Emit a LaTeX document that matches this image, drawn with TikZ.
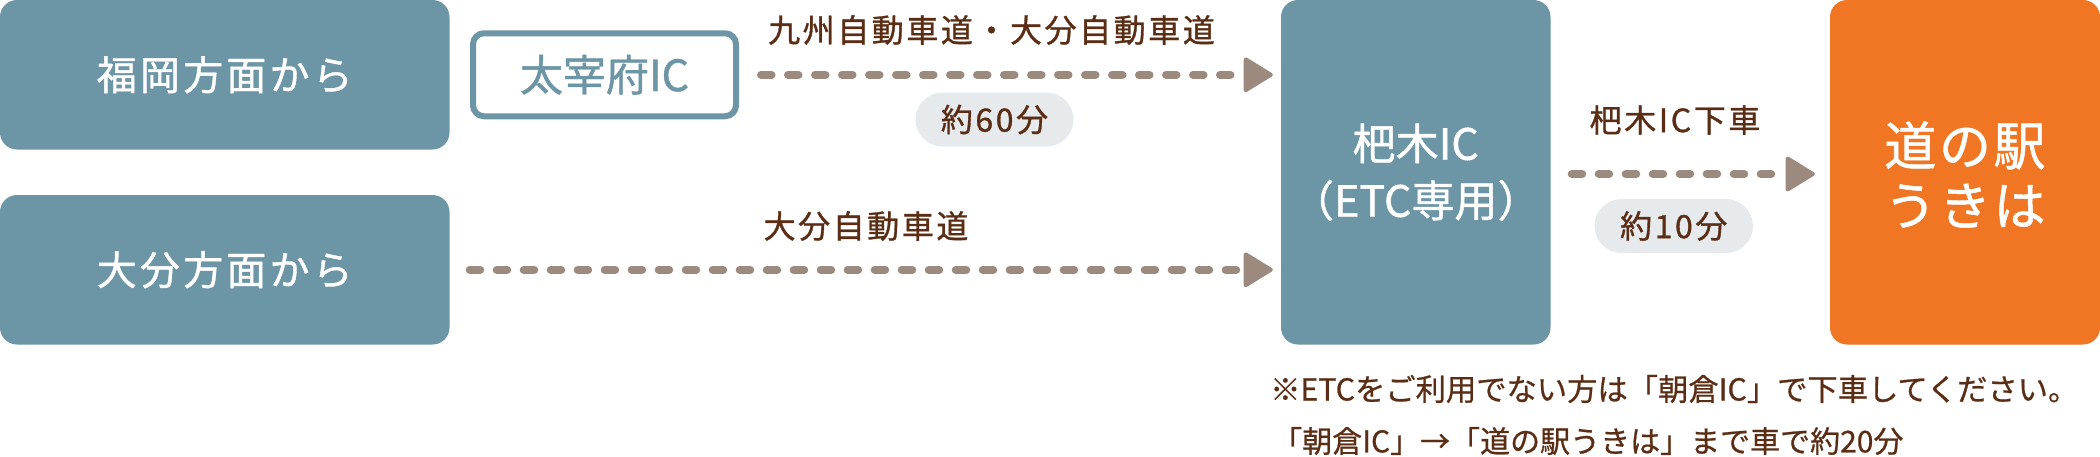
\documentclass[tikz,border=0pt]{standalone}
\usepackage{fontspec}
\usetikzlibrary{arrows.meta}
\setmainfont{Noto Sans CJK JP}[FakeBold=1]
\newfontfamily\jpwide{Noto Sans CJK JP}[LetterSpace=8,FakeBold=1]
\newfontfamily\jpbig{Noto Sans CJK JP}[LetterSpace=5,FakeBold=1]
\newfontfamily\jpnote{Noto Sans CJK JP}[FakeBold=0.7]
\definecolor{tealbox}{HTML}{6C95A6}
\definecolor{orangebox}{HTML}{F07623}
\definecolor{brownline}{HTML}{9C8A7E}
\definecolor{browntext}{HTML}{5A2D14}
\definecolor{pillgrey}{HTML}{E6EAEC}
\tikzset{
  x=1pt,y=-1pt,
  box/.style={fill=tealbox,rounded corners=17pt,inner sep=0pt,text=white,align=center,draw=none},
  startbox/.style={box,minimum width=449.5pt,minimum height=149.5pt,font=\fontsize{40}{48}\selectfont\jpwide},
  tallbox/.style={box,minimum height=344.5pt},
  icbox/.style={draw=tealbox,line width=6pt,fill=white,rounded corners=11pt,inner sep=0pt,minimum width=263pt,minimum height=83pt,text=tealbox,font=\fontsize{43}{48}\selectfont},
  lab/.style={inner sep=0pt,text=browntext,font=\fontsize{32}{36}\selectfont\jpwide},
  pill/.style={fill=pillgrey,rounded corners=27pt,inner sep=0pt,minimum height=54pt,text=browntext,font=\fontsize{32}{36}\selectfont\jpwide},
  note/.style={inner sep=0pt,anchor=west,text=browntext,font=\fontsize{30}{34}\selectfont\jpnote},
  route/.style={draw=brownline,line width=8pt,line cap=round,dash pattern=on 10.5pt off 16.5pt,
    -{Triangle[length=31pt,width=37pt,line width=4pt,round,fill=brownline]}},
}
\begin{document}
\begin{tikzpicture}
\useasboundingbox (0,0) rectangle (2100,456);
\node[startbox] (fukuoka) at (224.75,74.75) {福岡方面から};
\node[startbox] (oita) at (224.75,269.75) {大分方面から};
\node[icbox] (dazaifu) at (604.5,74.75) {太宰府IC};
\node[box,tallbox,minimum width=269.5pt,font=\fontsize{43}{57}\selectfont] (haki) at (1415.75,172.25) {杷木IC\\（ETC専用）};
\node[box,tallbox,fill=orangebox,minimum width=270pt] (michi) at (1965,172.25) {};
\node[inner sep=0pt,text=white,align=center,font=\fontsize{52}{60}\selectfont\jpbig] (michitext) at (1965,174.5) {道の駅\\うきは};
\node[lab] (l1) at (991.5,30) {九州自動車道・大分自動車道};
\node[pill,minimum width=158pt] (t60) at (994.5,119.5) {約60分};
\node[lab] (l2) at (866,226) {大分自動車道};
\node[lab] (l3) at (1675,120) {杷木IC下車};
\node[pill,minimum width=158.5pt] (t10) at (1673.75,226) {約10分};
\node[note,font=\fontsize{30.3}{34}\selectfont\jpnote] (n1) at (1270,389) {※ETCをご利用でない方は「朝倉IC」で下車してください。};
\node[note] (n2) at (1272,441) {「朝倉IC」→「道の駅うきは」まで車で約20分};
\draw[route,shorten <=22pt,shorten >=8pt] (dazaifu.east) -- (haki.west |- dazaifu.east);
\draw[route,shorten <=20pt,shorten >=8pt] (oita.east) -- (haki.west |- oita.east);
\draw[route,shorten <=21pt,shorten >=15pt] (haki.east |- 0,174) -- (michi.west |- 0,174);
\end{tikzpicture}
\end{document}
